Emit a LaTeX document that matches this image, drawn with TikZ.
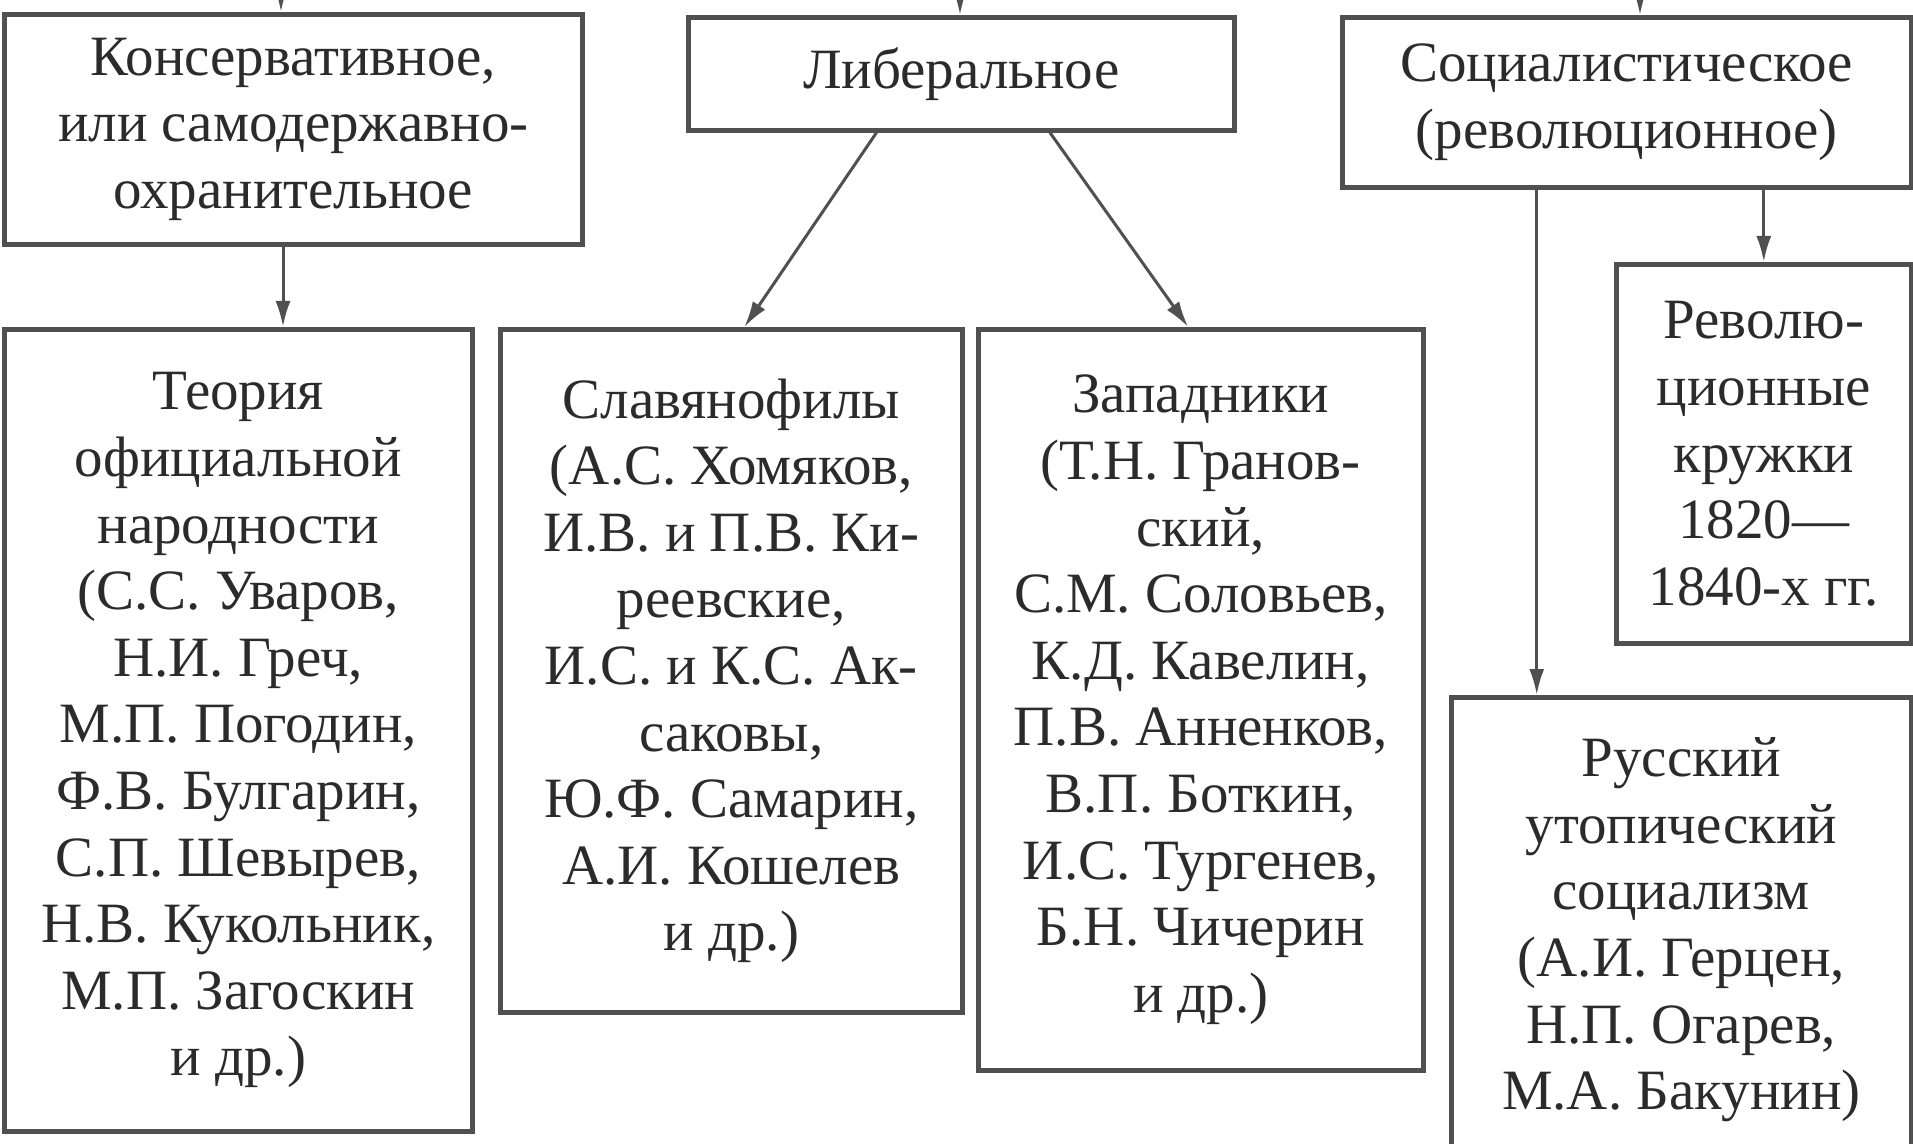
\documentclass[tikz,border=0pt]{standalone}
\usepackage{fontspec}
\setmainfont{Liberation Serif}
\usetikzlibrary{arrows.meta,calc}
\definecolor{ink}{HTML}{2B2B2B}
\definecolor{edge}{HTML}{505050}
\begin{document}
\begin{tikzpicture}[x=0.5pt,y=-0.5pt,
  box/.style={draw=edge, line width=2.3pt, rectangle, inner sep=0pt, anchor=north west,
    align=center, text=ink, font=\fontsize{28.5}{33.3}\selectfont},
  arr/.style={draw=edge, line width=1.5pt, -{Latex[length=13pt,width=7.5pt]}}]
\fill[white] (0,0) rectangle (1913,1144);
\useasboundingbox (0,0) rectangle (1913,1144);

% top row
\node[box, minimum width=289pt, minimum height=115pt] (cons) at (2,12)
  {Консервативное,\\или самодержавно-\\охранительное};
\node[box, minimum width=273pt, minimum height=56.5pt] (lib) at (686,15)
  {Либеральное};
\node[box, minimum width=284.5pt, minimum height=85pt] (soc) at (1340,15)
  {Социалистическое\\(революционное)};

% second row
\node[box, minimum width=234pt, minimum height=401pt] (teor) at (2,327)
  {Теория\\официальной\\народности\\(С.С. Уваров,\\Н.И. Греч,\\М.П. Погодин,\\Ф.В. Булгарин,\\С.П. Шевырев,\\Н.В. Кукольник,\\М.П. Загоскин\\и др.)};
\node[box, minimum width=231pt, minimum height=341.5pt] (slav) at (498,327)
  {Славянофилы\\(А.С. Хомяков,\\И.В. и П.В. Ки-\\реевские,\\И.С. и К.С. Ак-\\саковы,\\Ю.Ф. Самарин,\\А.И. Кошелев\\и др.)};
\node[box, minimum width=222.5pt, minimum height=370.5pt] (zap) at (976,327)
  {Западники\\(Т.Н. Гранов-\\ский,\\С.М. Соловьев,\\К.Д. Кавелин,\\П.В. Анненков,\\В.П. Боткин,\\И.С. Тургенев,\\Б.Н. Чичерин\\и др.)};
\node[box, minimum width=147.5pt, minimum height=189.5pt] (rev) at (1614,262)
  {Револю-\\ционные\\кружки\\1820—\\1840-х гг.};
\node[box, minimum width=230pt, minimum height=232.5pt] (rus) at (1449,695)
  {Русский\\утопический\\социализм\\(А.И. Герцен,\\Н.П. Огарев,\\М.А. Бакунин)};

% stubs from the cut-off parent above
\coordinate (t1) at (281,-25);
\coordinate (t2) at (960,-25);
\coordinate (t3) at (1640,-25);
\draw[arr] (t1) -- (t1 |- cons.north);
\draw[arr] (t2) -- (t2 |- lib.north);
\draw[arr] (t3) -- (t3 |- soc.north);

% connectors
\coordinate (c1) at (283,0);
\draw[arr] (c1 |- cons.south) -- (c1 |- teor.north);
\draw[arr] ($(lib.south west)!0.346!(lib.south east)$) -- ($(slav.north west)!0.528!(slav.north east)$);
\draw[arr] ($(lib.south west)!0.661!(lib.south east)$) -- ($(zap.north west)!0.472!(zap.north east)$);
\draw[arr] (rev.north |- soc.south) -- (rev.north);
\coordinate (s2) at ($(soc.south west)!0.343!(soc.south east)$);
\draw[arr] (s2) -- (s2 |- rus.north);
\end{tikzpicture}
\end{document}
